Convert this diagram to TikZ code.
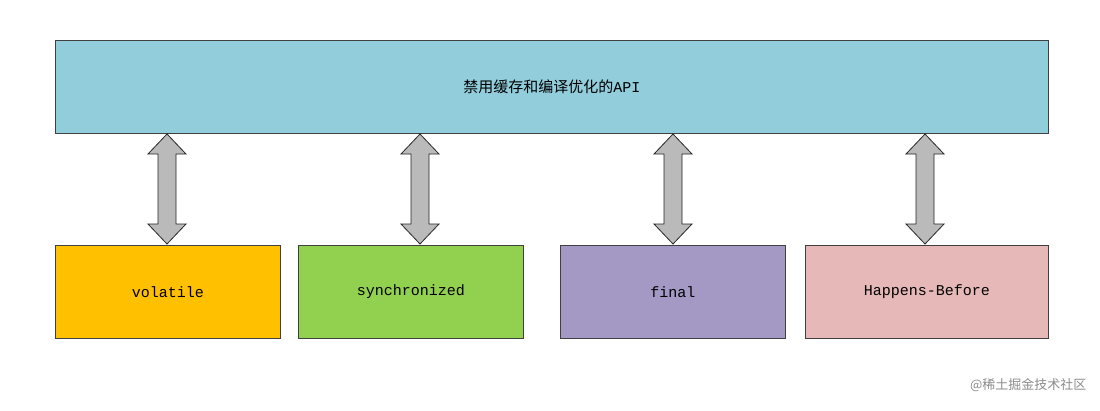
\documentclass[tikz,border=0pt]{standalone}
\usepackage{fontspec}
\setmainfont{Liberation Mono}
\newfontfamily\cjk{Noto Sans CJK SC}
\begin{document}
\begin{tikzpicture}[x=1pt,y=-1pt,
  boxs/.style={draw=black!75,line width=0.8pt,inner sep=0pt,font=\fontsize{15}{18}\selectfont},
  arr/.style={draw=black!85,fill=black!27,line width=0.8pt,line join=miter}]
\useasboundingbox[fill=white] (0,0) rectangle (1100,410);
\node[boxs,fill={rgb,255:red,146;green,205;blue,220},minimum width=993,minimum height=93,anchor=north west] (api) at (55,40) {\cjk 禁用缓存和编译优化的\fontspec{Liberation Mono}API};
\node[boxs,fill={rgb,255:red,255;green,192;blue,0},minimum width=225,minimum height=93,anchor=north west] (v) at (55,245) {volatile};
\node[boxs,fill={rgb,255:red,146;green,208;blue,80},minimum width=225,minimum height=93,anchor=north west] (s) at (298,245) {synchronized};
\node[boxs,fill={rgb,255:red,164;green,153;blue,196},minimum width=225,minimum height=93,anchor=north west] (f) at (560,245) {final};
\node[boxs,fill={rgb,255:red,230;green,185;blue,184},minimum width=243,minimum height=93,anchor=north west] (h) at (805,245) {Happens-Before};
\foreach \n/\c in {v/167,s/420,f/673,h/925}{
  \coordinate (t\n) at (\c,134);
  \draw[arr] (t\n) -- ++(19,20) -- ++(-10,0) -- ++(0,70) -- ++(10,0) -- ++(-19,20) -- ++(-19,-20) -- ++(10,0) -- ++(0,-70) -- ++(-10,0) -- cycle;
}
\node[anchor=east,text=black!45,font=\cjk\fontsize{13}{15}\selectfont] (wm) at (1090,385) {@稀土掘金技术社区};
\end{tikzpicture}
\end{document}
